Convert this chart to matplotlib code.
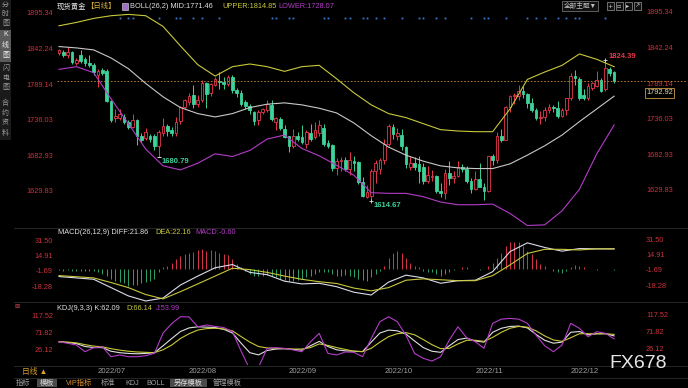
import matplotlib
matplotlib.use('Agg')
import matplotlib.pyplot as plt
import matplotlib.transforms as mtransforms
from matplotlib.lines import Line2D
from matplotlib.patches import Rectangle

plt.rcParams['font.family'] = ['Liberation Sans', 'Noto Sans CJK SC', 'DejaVu Sans']

W, H = 688, 388
BG = '#000000'
RED = '#e8384c'
GREEN = '#3cd29a'
AXIS_RED = '#c8323c'
WHITE = '#d8d8d8'
YELLOW = '#c8c83c'
MAGENTA = '#b43cc8'
GRID = '#2c2c2c'

# ---- daily candles, 2022/06/20 .. 2022/12/15 ----
opens = [1835, 1837, 1832, 1837, 1820, 1833, 1826, 1820, 1817, 1803,
         1810, 1808, 1764, 1738, 1739, 1740, 1732, 1725, 1735, 1711,
         1708, 1712, 1712, 1697, 1716, 1727, 1720, 1716, 1734, 1755,
         1762, 1772, 1760, 1765, 1790, 1775, 1788, 1794, 1792, 1789,
         1800, 1780, 1776, 1762, 1756, 1748, 1735, 1748, 1751, 1758,
         1733, 1737, 1722, 1711, 1696, 1711, 1710, 1700, 1716, 1710,
         1716, 1723, 1701, 1698, 1664, 1675, 1676, 1662, 1675, 1673,
         1643, 1621, 1622, 1660, 1663, 1676, 1699, 1725, 1712, 1713,
         1695, 1666, 1672, 1670, 1666, 1644, 1650, 1652, 1629, 1627,
         1657, 1649, 1652, 1665, 1663, 1645, 1633, 1647, 1636, 1630,
         1681, 1676, 1712, 1706, 1755, 1771, 1771, 1778, 1774, 1761,
         1751, 1738, 1740, 1750, 1755, 1754, 1741, 1750, 1768, 1801,
         1797, 1772, 1769, 1783, 1786, 1795, 1781, 1812, 1807]
highs = [1842, 1840, 1845, 1839, 1828, 1840, 1830, 1832, 1820, 1812,
         1813, 1812, 1766, 1752, 1752, 1745, 1736, 1745, 1737, 1716,
         1724, 1715, 1714, 1721, 1739, 1730, 1725, 1740, 1757, 1767,
         1775, 1788, 1772, 1795, 1792, 1791, 1800, 1807, 1800, 1803,
         1802, 1783, 1780, 1766, 1759, 1749, 1750, 1754, 1765, 1765,
         1740, 1740, 1728, 1712, 1722, 1718, 1728, 1721, 1729, 1733,
         1735, 1729, 1706, 1699, 1679, 1680, 1680, 1688, 1681, 1675,
         1651, 1638, 1663, 1676, 1678, 1707, 1729, 1730, 1724, 1722,
         1697, 1681, 1680, 1682, 1671, 1667, 1661, 1654, 1642, 1662,
         1675, 1660, 1675, 1670, 1667, 1649, 1659, 1671, 1642, 1682,
         1684, 1717, 1722, 1757, 1772, 1775, 1787, 1786, 1775, 1768,
         1753, 1749, 1755, 1759, 1758, 1764, 1754, 1769, 1805, 1810,
         1800, 1782, 1790, 1792, 1808, 1798, 1824.39, 1814, 1809]
lows = [1832, 1830, 1828, 1819, 1817, 1820, 1816, 1815, 1803, 1785,
        1802, 1762, 1733, 1732, 1735, 1730, 1722, 1723, 1698, 1702,
        1705, 1702, 1690, 1680.79, 1712, 1712, 1712, 1711, 1730, 1752,
        1758, 1754, 1755, 1762, 1754, 1771, 1786, 1782, 1782, 1786,
        1775, 1770, 1756, 1752, 1745, 1728, 1728, 1744, 1747, 1734,
        1720, 1720, 1708, 1688, 1694, 1704, 1700, 1693, 1704, 1707,
        1711, 1697, 1693, 1660, 1654, 1660, 1660, 1654, 1659, 1640,
        1621, 1619, 1614.67, 1642, 1655, 1670, 1696, 1707, 1706, 1690,
        1664, 1661, 1661, 1642, 1640, 1641, 1645, 1627, 1621, 1618,
        1638, 1641, 1650, 1658, 1641, 1627, 1631, 1635, 1616, 1628,
        1668, 1672, 1702, 1705, 1748, 1760, 1766, 1768, 1754, 1747,
        1735, 1730, 1734, 1746, 1747, 1738, 1740, 1743, 1765, 1788,
        1765, 1766, 1766, 1780, 1785, 1777, 1779, 1801, 1791]
closes = [1840, 1832, 1837, 1822, 1825, 1823, 1820, 1818, 1807, 1808,
          1806, 1764, 1736, 1742, 1745, 1733, 1725, 1735, 1711, 1706,
          1718, 1707, 1697, 1718, 1727, 1719, 1716, 1732, 1755, 1765,
          1771, 1760, 1765, 1791, 1774, 1789, 1796, 1792, 1789, 1800,
          1780, 1775, 1760, 1756, 1750, 1734, 1748, 1752, 1759, 1737,
          1738, 1723, 1710, 1697, 1712, 1707, 1702, 1718, 1707, 1720,
          1728, 1700, 1697, 1664, 1675, 1676, 1663, 1676, 1671, 1643,
          1622, 1628, 1660, 1672, 1676, 1699, 1726, 1714, 1716, 1696,
          1670, 1672, 1666, 1660, 1644, 1653, 1652, 1629, 1627, 1657,
          1649, 1652, 1665, 1663, 1645, 1633, 1647, 1636, 1630, 1681,
          1676, 1712, 1706, 1755, 1771, 1772, 1778, 1774, 1761, 1751,
          1738, 1740, 1750, 1755, 1754, 1741, 1750, 1768, 1801, 1798,
          1769, 1769, 1786, 1790, 1795, 1779, 1813, 1806, 1792.92]
last_price = 1792.92

month_labels = ['2022/07', '2022/08', '2022/09', '2022/10', '2022/11', '2022/12']
month_starts = [9, 30, 53, 75, 96, 118]

# ---- BOLL(26,2), read every 4 bars ----
boll_idx = list(range(0, 129, 4))
boll_mid = [1845, 1843, 1840, 1828, 1812, 1790, 1770, 1754, 1745, 1740, 1745,
            1754, 1759, 1761, 1758, 1753, 1746, 1731, 1712, 1695, 1683, 1674,
            1667, 1664, 1663, 1663, 1670, 1683, 1697, 1713, 1733, 1752, 1771]
boll_upper = [1876, 1881, 1887, 1891, 1893, 1891, 1875, 1846, 1818, 1801, 1815,
              1819, 1815, 1808, 1815, 1817, 1797, 1776, 1758, 1745, 1739, 1730,
              1721, 1719, 1718, 1718, 1752, 1796, 1807, 1817, 1834, 1826, 1815]
boll_lower = [1811, 1815, 1806, 1767, 1730, 1692, 1667, 1661, 1671, 1685, 1681,
              1690, 1707, 1713, 1693, 1682, 1668, 1653, 1627, 1626, 1626, 1621,
              1613, 1609, 1609, 1610, 1596, 1578, 1579, 1600, 1632, 1685, 1728]
signal_bars = [14, 16, 17, 23, 27, 28, 31, 33, 37, 49, 50, 53, 54, 61, 62, 66, 67,
               70, 71, 73, 75, 79, 83, 84, 87, 89, 95, 98, 99, 103, 108, 110, 112,
               115, 117, 119, 120, 126]
price_ticks = [1629.83, 1682.93, 1736.03, 1789.14, 1842.24, 1895.34]

# ---- MACD(26,12,9) ----
macd_idx = list(range(0, 129, 4))
macd_diff = [-8, -9.5, -11, -20, -29, -34.5, -31.3, -17.2, -7.5, 1.5, 5, -3.5, -6,
             -13, -16, -15.3, -19, -25, -28, -14, -6.5, -9.5, -15.3, -12.5, -12,
             -2.7, 19, 28.5, 23.5, 19.5, 22.3, 22, 21.86]
macd_dea = [-7, -8.2, -9.5, -14.5, -20, -27.5, -32.2, -24.4, -16, -7.5, 1, -0.5,
            -3.5, -7.5, -11, -13.6, -15.5, -20.5, -23.5, -20, -12, -10.5, -11.5,
            -12.5, -12.5, -7, 4.6, 17, 21.5, 21.5, 20.8, 22, 22.16]
macd_hist = [-1, -1.5, -1, -1.5, -2, -2, -1.5, -2, -2.5, -3,
             -5.4, -7.2, -10.8, -12.6, -14.4, -15.2, -18, -17.3, -17.3, -15.2,
             -13.7, -12.6, -10.8, -3.6, 1.8, 3.6, 7.2, 10.8, 14.4, 16.2,
             18, 18.8, 20.9, 21.7, 19.9, 20.9, 19.9, 18, 16.2, 15.2,
             10.8, 5.4, 1.8, -1.8, -5.4, -7.2, -7.2, -7.2, -6.5, -7.9,
             -9, -10.8, -11.6, -12.6, -12.6, -11.6, -10.8, -9, -7.2, -5.4,
             -3.6, -3.6, -2.9, -5.4, -7.2, -7.2, -6.5, -7.9, -9, -10.8,
             -11.6, -12.6, -9, -5.4, -1.8, 3.6, 12.6, 18, 19.9, 18,
             12.6, 7.2, 3.6, 1.8, -1.8, -2.9, -3.6, -5.4, -7.2, -5.4,
             -2.9, -0.7, 0.7, 1.8, 1.8, 0.7, 0.3, -0.7, 0.7, 2.9,
             7.2, 12.6, 18, 25.3, 28.9, 29.6, 28.9, 25.3, 19.9, 16.2,
             10.8, 5.4, 3.6, 0.7, -1.8, -3.6, -4.3, -1.8, 1.8, 4.3,
             3.6, 1.8, 0.7, 0.3, -0.7, 0.3, 0.7, 0.3, -0.6]
macd_ticks = [-18.28, -1.69, 14.91, 31.50]

# ---- KDJ(9,3,3), read every 2 bars ----
kdj_idx = list(range(0, 129, 2))
kdj_k = [46, 44, 41, 33, 30, 30, 20, 16, 14, 13, 14,
         16, 35, 55, 74, 84, 87, 86, 85, 80, 70,
         42, 16, 10, 22, 26, 27, 25, 23, 35, 47,
         33, 24, 21, 20, 19, 45, 70, 78, 76, 67,
         48, 30, 20, 17, 35, 52, 56, 48, 45, 72,
         83, 88, 89, 84, 66, 50, 42, 45, 72, 74,
         65, 68, 68, 62.09]
kdj_d = [46, 45, 43, 38, 34, 32, 27, 23, 20, 18, 17,
         16, 24, 37, 55, 68, 78, 82, 83, 81, 76,
         60, 45, 33, 29, 28, 27, 26, 26, 30, 40,
         36, 30, 25, 20, 19, 28, 45, 60, 68, 71,
         65, 52, 38, 27, 28, 40, 50, 50, 47, 58,
         72, 83, 88, 86, 76, 62, 51, 47, 57, 68,
         68, 68, 68, 66.14]
kdj_j = [46, 41.7, 37, 18.7, 29.7, 32, 5, 9.7, 5, 5, 7.8,
         14.3, 70, 96, 114.6, 114, 87, 92, 88, 85, 73.6,
         20, -30, -24, 28, 29.7, 28, 23.4, 18.7, 46, 69,
         14.3, 9.7, 18, 17, 5, 55, 101, 114.6, 101, 64,
         14, 0.6, -7, 5, 51, 87, 57, 46, 28, 96.5,
         108, 110, 108, 96.5, 64, 35, 18.7, 37, 96.5, 82.8,
         59.8, 73.6, 69.2, 53.99]
kdj_ticks = [26.12, 71.82, 117.52]


def px_rect(left, top, right, bottom):
    return [left / W, 1 - bottom / H, (right - left) / W, (bottom - top) / H]


def fy(y):
    return 1 - y / H


def hline(y, x0=14, x1=W, color=GRID):
    fig.add_artist(Line2D([x0 / W, x1 / W], [fy(y), fy(y)], transform=fig.transFigure,
                          color=color, lw=0.6))


def ftext(x, y, s, **kw):
    kw.setdefault('va', 'center')
    kw.setdefault('ha', 'left')
    kw.setdefault('fontsize', 5.3)
    fig.text(x / W, fy(y), s, **kw)


fig = plt.figure(figsize=(W / 100, H / 100), dpi=100, facecolor=BG)

ax_k = fig.add_axes(px_rect(57, 4, 641, 228))
ax_m = fig.add_axes(px_rect(57, 228, 641, 302))
ax_j = fig.add_axes(px_rect(57, 302, 641, 365))
plot_w = 641 - 57

for ax in (ax_k, ax_m, ax_j):
    ax.set_facecolor('none')
    for spine in ax.spines.values():
        spine.set_visible(False)
    ax.set_xlim(-0.46, 134.2)
    ax.set_xticks([])
    ax.tick_params(axis='y', length=0, pad=2.9, labelsize=5.3, labelcolor=AXIS_RED)

ax_k.set_ylim(1574.3, 1908.5)
ax_m.set_ylim(-35.6, 44.6)
ax_j.set_ylim(-17.75, 155.0)


def set_ticks(ax, ticks, skip=None):
    ax.set_yticks(ticks)
    ax.set_yticklabels(['%.2f' % t for t in ticks])
    tr = mtransforms.blended_transform_factory(ax.transAxes, ax.transData)
    for t in ticks:
        ax.text(1 + 5 / plot_w, t, '%.2f' % t, transform=tr, ha='left', va='center',
                fontsize=5.3, color=AXIS_RED, clip_on=False)


set_ticks(ax_k, price_ticks)
set_ticks(ax_m, macd_ticks)
set_ticks(ax_j, kdj_ticks)

# candles
for i in range(len(closes)):
    o, h, l, c = opens[i], highs[i], lows[i], closes[i]
    up = c >= o
    col = RED if up else GREEN
    ax_k.vlines(i, l, h, color=col, lw=0.7, zorder=2)
    body = max(abs(c - o), 0.8)
    ax_k.bar(i, body, bottom=min(o, c), width=0.62,
             facecolor=BG if up else GREEN, edgecolor=col, linewidth=0.6, zorder=3)

ax_k.plot(boll_idx, boll_mid, color='#c8c8c8', lw=0.8, zorder=4)
ax_k.plot(boll_idx, boll_upper, color=YELLOW, lw=0.8, zorder=4)
ax_k.plot(boll_idx, boll_lower, color=MAGENTA, lw=0.8, zorder=4)

# current price line and tag (tag sits just under the 1789.14 label)
ax_k.plot([-0.46, 144.6], [last_price, last_price], color='#c88a3a', lw=0.6,
          ls=(0, (2, 2)), clip_on=False, zorder=5)
tag_tr = mtransforms.blended_transform_factory(ax_k.transAxes, ax_k.transData)
ax_k.text(1 + 5 / plot_w, last_price - 11.5, '%.2f' % last_price, transform=tag_tr,
          ha='left', va='top', fontsize=5.3, color='#e8d8a8', clip_on=False, zorder=10,
          bbox=dict(boxstyle='square,pad=0.2', facecolor=BG, edgecolor='#b08a3a', lw=0.7))

# signal dots
dot_tr = mtransforms.blended_transform_factory(ax_k.transData, ax_k.transAxes)
ax_k.plot(signal_bars, [0.9375] * len(signal_bars), 's', ms=1.3, color='#3a78d8',
          mec='none', transform=dot_tr)

# extreme marks
i_hi = 60 + highs[60:].index(max(highs[60:]))
i_lo2 = lows.index(min(lows))
i_lo1 = lows.index(min(lows[:40]))
ax_k.plot([i_hi, i_lo2], [highs[i_hi], lows[i_lo2]], '+', ms=3, mew=0.6, color='#e0e0e0', zorder=6)
ax_k.plot([i_lo1], [lows[i_lo1]], '_', ms=3, mew=0.7, color='#e0e0e0', zorder=6)
ax_k.annotate('%.2f' % highs[i_hi], (i_hi, highs[i_hi]), xytext=(3, 4), textcoords='offset pixels',
              ha='left', va='center', fontsize=5.5, color=RED, fontweight='bold')
ax_k.annotate('%.2f' % lows[i_lo1], (i_lo1, lows[i_lo1]), xytext=(3, -5), textcoords='offset pixels',
              ha='left', va='center', fontsize=5.5, color=GREEN, fontweight='bold')
ax_k.annotate('%.2f' % lows[i_lo2], (i_lo2, lows[i_lo2]), xytext=(2, -5), textcoords='offset pixels',
              ha='left', va='center', fontsize=5.5, color=GREEN, fontweight='bold')

# MACD
pos = [v if v > 0 else 0 for v in macd_hist]
neg = [v if v < 0 else 0 for v in macd_hist]
bars = list(range(len(macd_hist)))
ax_m.vlines(bars, 0, pos, color='#d8364c', lw=0.7)
ax_m.vlines(bars, neg, 0, color='#2fa36a', lw=0.7)
ax_m.plot(macd_idx, macd_diff, color='#dcdcec', lw=0.8)
ax_m.plot(macd_idx, macd_dea, color=YELLOW, lw=0.8)

# KDJ
ax_j.plot(kdj_idx, kdj_k, color='#e0e0e0', lw=0.8)
ax_j.plot(kdj_idx, kdj_d, color=YELLOW, lw=0.8)
ax_j.plot(kdj_idx, kdj_j, color=MAGENTA, lw=0.8)

# month labels
lab_tr = mtransforms.blended_transform_factory(ax_j.transData, fig.transFigure)
for pos_i, lab in zip(month_starts, month_labels):
    ax_j.text(pos_i, fy(371.5), lab, transform=lab_tr, ha='left', va='center',
              fontsize=5.6, color='#a0a0a0', clip_on=False)

# separators
for y in (228, 302, 366, 378):
    hline(y)

# headers
ftext(57, 6.5, '现货黄金', color='#e8e8e8')
ftext(86, 6.5, '【日线】', color='#d8b040')
fig.add_artist(Rectangle((122 / W, fy(10)), 6 / W, 7 / H, transform=fig.transFigure,
                         facecolor='#a070c8', edgecolor='#e0e0e0', lw=0.4))
ftext(130, 6.5, 'BOLL(26,2) MID:1771.46', color='#e0e0e0')
ftext(222, 6.5, 'UPPER:1814.85', color=YELLOW)
ftext(278, 6.5, 'LOWER:1728.07', color=MAGENTA)

ftext(58, 232, 'MACD(26,12,9) DIFF:21.86', color='#e0e0e0')
ftext(155, 232, 'DEA:22.16', color=YELLOW)
ftext(195, 232, 'MACD:-0.60', color=MAGENTA)

ftext(57, 309, 'KDJ(9,3,3) K:62.09', color='#e0e0e0')
ftext(126, 309, 'D:66.14', color=YELLOW)
ftext(156, 309, 'J:53.99', color=MAGENTA)
ftext(14, 307, '⊠', color='#c84050', fontsize=4.5, family='DejaVu Sans')

# top-right buttons
ftext(580, 6, '全部主题▼', ha='center', fontsize=4.8, color='#c0c0c0',
      bbox=dict(boxstyle='square,pad=0.25', facecolor='#101010', edgecolor='#808080', lw=0.5))
for bx, glyph in zip((610, 619, 628, 637), ('+', '▫', '▸', '↗')):
    fig.add_artist(Rectangle(((bx - 3.5) / W, fy(9.5)), 7 / W, 7 / H, transform=fig.transFigure,
                             facecolor='#101010', edgecolor='#9a9a9a', lw=0.5))
    ftext(bx, 6, glyph, ha='center', fontsize=4.5, color='#d0d0d0', family='DejaVu Sans')

# left sidebar
fig.add_artist(Rectangle((0, fy(140)), 11 / W, 140 / H, transform=fig.transFigure,
                         facecolor='#1a1a1a', edgecolor='none'))
fig.add_artist(Rectangle((0, fy(62)), 11 / W, 32 / H, transform=fig.transFigure,
                         facecolor='#5a5a5a', edgecolor='none'))
side_tabs = [('分时图', [5.5, 14.5, 23.5], '#9a9a9a'),
             ('K线图', [35, 45, 55], '#f0f0f0'),
             ('闪电图', [68, 78, 88], '#9a9a9a'),
             ('合约资料', [103, 113, 123, 133], '#9a9a9a')]
for word, ys, col in side_tabs:
    for ch, y in zip(word, ys):
        ftext(5.5, y, ch, ha='center', fontsize=5, color=col)

# bottom bar
ftext(22, 372, '日线 ▲', color='#d8a02c', fontsize=5.6)
toolbar = [('指标', 17, 28, False, '#a0a0a0'), ('模板', 37, 57, True, '#e0e0e0'),
           ('VIP指标', 67, 92, False, '#d8902c'), ('标准', 102, 115, False, '#a0a0a0'),
           ('KDJ', 127, 138, False, '#a0a0a0'), ('BOLL', 148, 163, False, '#a0a0a0'),
           ('另存模板', 170, 207, True, '#e0e0e0'), ('管理模板', 212, 242, False, '#a0a0a0')]
for name, x0, x1, hl, col in toolbar:
    if hl:
        fig.add_artist(Rectangle((x0 / W, fy(387)), (x1 - x0) / W, 8 / H,
                                 transform=fig.transFigure, facecolor='#4a4a4a', edgecolor='none'))
    ftext((x0 + x1) / 2, 383.5, name, ha='center', fontsize=5.2, color=col)

ftext(638, 364, 'FX678', ha='center', fontsize=14, color='#e6e6e6')

fig.savefig('out.png', dpi=100, facecolor=BG)
